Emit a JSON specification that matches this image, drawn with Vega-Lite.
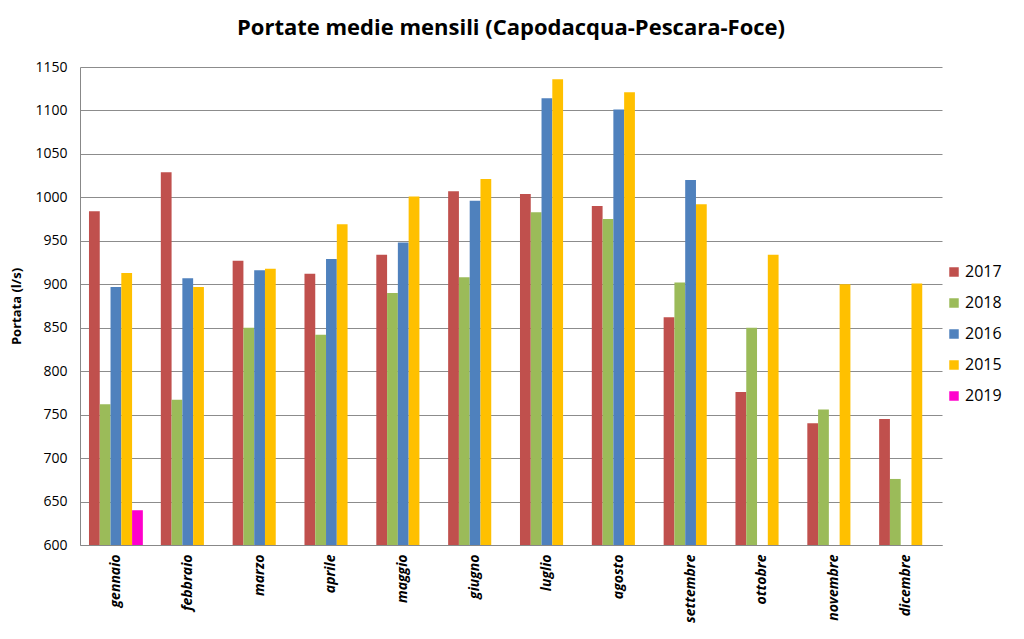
{
  "$schema": "https://vega.github.io/schema/vega-lite/v6.json",
  "width": 862,
  "height": 478,
  "autosize": {"type": "none"},
  "padding": {"left": 80, "top": 67, "right": 82, "bottom": 94},
  "background": "white",
  "title": {"text": "Portate medie mensili (Capodacqua-Pescara-Foce)", "font": "Open Sans", "fontSize": 22, "fontWeight": "bold", "color": "#000000", "offset": 20, "anchor": "middle"},
  "config": {"view": {"stroke": null}},
  "data": {"values": [
    {"mese": "gennaio", "anno": "2017", "portata": 984},
    {"mese": "gennaio", "anno": "2018", "portata": 762},
    {"mese": "gennaio", "anno": "2016", "portata": 897},
    {"mese": "gennaio", "anno": "2015", "portata": 913},
    {"mese": "gennaio", "anno": "2019", "portata": 640},
    {"mese": "febbraio", "anno": "2017", "portata": 1029},
    {"mese": "febbraio", "anno": "2018", "portata": 767},
    {"mese": "febbraio", "anno": "2016", "portata": 907},
    {"mese": "febbraio", "anno": "2015", "portata": 897},
    {"mese": "marzo", "anno": "2017", "portata": 927},
    {"mese": "marzo", "anno": "2018", "portata": 850},
    {"mese": "marzo", "anno": "2016", "portata": 916},
    {"mese": "marzo", "anno": "2015", "portata": 918},
    {"mese": "aprile", "anno": "2017", "portata": 912},
    {"mese": "aprile", "anno": "2018", "portata": 842},
    {"mese": "aprile", "anno": "2016", "portata": 929},
    {"mese": "aprile", "anno": "2015", "portata": 969},
    {"mese": "maggio", "anno": "2017", "portata": 934},
    {"mese": "maggio", "anno": "2018", "portata": 890},
    {"mese": "maggio", "anno": "2016", "portata": 948},
    {"mese": "maggio", "anno": "2015", "portata": 1001},
    {"mese": "giugno", "anno": "2017", "portata": 1007},
    {"mese": "giugno", "anno": "2018", "portata": 908},
    {"mese": "giugno", "anno": "2016", "portata": 996},
    {"mese": "giugno", "anno": "2015", "portata": 1021},
    {"mese": "luglio", "anno": "2017", "portata": 1004},
    {"mese": "luglio", "anno": "2018", "portata": 983},
    {"mese": "luglio", "anno": "2016", "portata": 1114},
    {"mese": "luglio", "anno": "2015", "portata": 1136},
    {"mese": "agosto", "anno": "2017", "portata": 990},
    {"mese": "agosto", "anno": "2018", "portata": 975},
    {"mese": "agosto", "anno": "2016", "portata": 1101},
    {"mese": "agosto", "anno": "2015", "portata": 1121},
    {"mese": "settembre", "anno": "2017", "portata": 862},
    {"mese": "settembre", "anno": "2018", "portata": 902},
    {"mese": "settembre", "anno": "2016", "portata": 1020},
    {"mese": "settembre", "anno": "2015", "portata": 992},
    {"mese": "ottobre", "anno": "2017", "portata": 776},
    {"mese": "ottobre", "anno": "2018", "portata": 850},
    {"mese": "ottobre", "anno": "2015", "portata": 934},
    {"mese": "novembre", "anno": "2017", "portata": 740},
    {"mese": "novembre", "anno": "2018", "portata": 756},
    {"mese": "novembre", "anno": "2015", "portata": 900},
    {"mese": "dicembre", "anno": "2017", "portata": 745},
    {"mese": "dicembre", "anno": "2018", "portata": 676},
    {"mese": "dicembre", "anno": "2015", "portata": 901}
  ]},
  "mark": {"type": "bar"},
  "encoding": {
    "x": {
      "field": "mese", "type": "nominal",
      "sort": ["gennaio", "febbraio", "marzo", "aprile", "maggio", "giugno", "luglio", "agosto", "settembre", "ottobre", "novembre", "dicembre"],
      "scale": {"paddingInner": 0.25, "paddingOuter": 0.125},
      "axis": {"title": null, "labelAngle": -90, "labelFont": "Open Sans", "labelFontSize": 14, "labelFontStyle": "italic", "labelFontWeight": "bold", "labelColor": "#000000", "labelPadding": 9, "ticks": false, "domainColor": "#888888", "domainWidth": 1}
    },
    "xOffset": {"field": "anno", "type": "nominal", "sort": ["2017", "2018", "2016", "2015", "2019"], "scale": {"paddingInner": 0, "paddingOuter": 0}},
    "y": {
      "field": "portata", "type": "quantitative",
      "scale": {"domain": [600, 1150], "zero": false, "nice": false},
      "axis": {"title": "Portata (l/s)", "format": "d", "titleFont": "Open Sans", "titleFontSize": 13, "titleFontWeight": "bold", "titleColor": "#000000", "titlePadding": 11, "values": [600, 650, 700, 750, 800, 850, 900, 950, 1000, 1050, 1100, 1150], "labelFont": "Open Sans", "labelFontSize": 14, "labelColor": "#000000", "labelPadding": 13, "ticks": false, "gridColor": "#8c8c8c", "gridWidth": 1, "domainColor": "#888888", "domainWidth": 1}
    },
    "y2": {"datum": 600},
    "color": {
      "field": "anno", "type": "nominal",
      "sort": ["2017", "2018", "2016", "2015", "2019"],
      "scale": {"domain": ["2017", "2018", "2016", "2015", "2019"], "range": ["#C0504D", "#9BBB59", "#4F81BD", "#FFC000", "#FF00CC"]},
      "legend": {"title": null, "orient": "none", "legendX": 866, "legendY": 197, "symbolType": "square", "symbolSize": 90, "symbolStrokeWidth": 0, "labelFont": "Open Sans", "labelFontSize": 16, "labelColor": "#000000", "rowPadding": 15, "labelOffset": 3}
    }
  }
}
